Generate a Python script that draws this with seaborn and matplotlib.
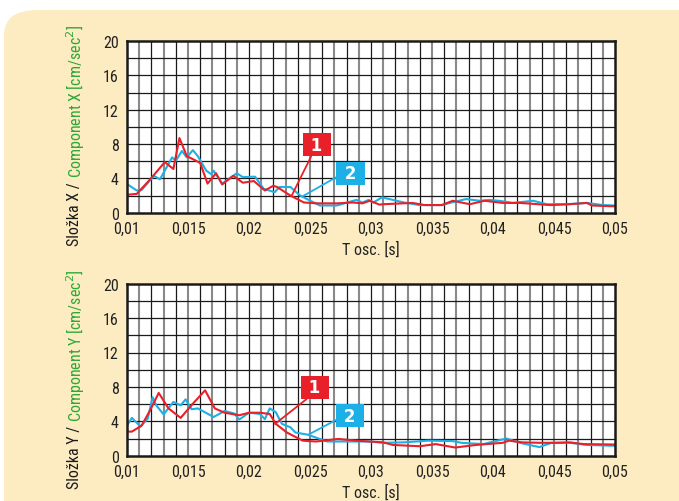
import numpy as np
import pandas as pd
import seaborn as sns
import matplotlib.pyplot as plt
from matplotlib.patches import FancyBboxPatch
from matplotlib import font_manager

# Top chart (component X)
x_top_1 = [0.0100, 0.0108, 0.0119, 0.0131, 0.0138, 0.0143, 0.0149, 0.0156, 0.0160, 0.0166,
           0.0173, 0.0178, 0.0187, 0.0195, 0.0204, 0.0213, 0.0220, 0.0223, 0.0234, 0.0245,
           0.0256, 0.0272, 0.0285, 0.0293, 0.0299, 0.0307, 0.0310, 0.0334, 0.0344, 0.0358,
           0.0367, 0.0381, 0.0393, 0.0408, 0.0422, 0.0447, 0.0463, 0.0477, 0.0481, 0.0500]
y_top_1 = [2.1, 2.2, 3.9, 5.9, 5.1, 8.7, 6.6, 6.1, 5.8, 3.4,
           4.6, 3.3, 4.3, 3.5, 3.7, 2.6, 3.15, 3.0, 2.0, 1.2,
           1.1, 1.1, 1.2, 1.1, 1.4, 0.95, 1.0, 1.15, 0.9, 0.9,
           1.4, 1.0, 1.4, 1.15, 1.15, 0.9, 1.0, 1.15, 0.85, 0.75]
x_top_2 = [0.0100, 0.0108, 0.0112, 0.0122, 0.0127, 0.0137, 0.0140, 0.0145, 0.0149, 0.0154,
           0.0158, 0.0165, 0.0169, 0.0171, 0.0178, 0.0190, 0.0195, 0.0203, 0.0205, 0.0212,
           0.0221, 0.0225, 0.0234, 0.0242, 0.0258, 0.0272, 0.0288, 0.0293, 0.0298, 0.0302,
           0.0309, 0.0327, 0.0340, 0.0358, 0.0366, 0.0378, 0.0389, 0.0397, 0.0405, 0.0416,
           0.0433, 0.0444, 0.0460, 0.0477, 0.0490, 0.0500]
y_top_2 = [3.35, 2.6, 2.65, 4.3, 3.9, 6.45, 6.05, 7.2, 6.45, 7.3,
           6.6, 4.9, 4.5, 4.9, 3.4, 4.6, 4.15, 4.2, 4.2, 2.8,
           2.4, 3.0, 3.0, 2.0, 0.85, 0.85, 1.5, 1.2, 1.5, 1.2,
           1.8, 1.2, 0.9, 0.9, 1.2, 1.6, 1.4, 1.5, 1.4, 1.15,
           1.4, 1.0, 1.0, 1.15, 0.9, 0.85]

# Bottom chart (component Y)
x_bot_1 = [0.0100, 0.0104, 0.0112, 0.0119, 0.0126, 0.0134, 0.0144, 0.0154, 0.0164, 0.0172,
           0.0180, 0.0192, 0.0200, 0.0209, 0.0217, 0.0222, 0.0231, 0.0244, 0.0255, 0.0273,
           0.0288, 0.0299, 0.0310, 0.0318, 0.0340, 0.0353, 0.0369, 0.0386, 0.0408, 0.0413,
           0.0424, 0.0438, 0.0452, 0.0463, 0.0474, 0.0500]
y_bot_1 = [2.8, 2.8, 3.5, 5.3, 7.3, 5.5, 4.4, 6.05, 7.6, 5.5,
           5.0, 4.7, 5.0, 5.0, 4.85, 3.7, 2.7, 1.75, 1.65, 1.95,
           1.75, 1.65, 1.55, 1.25, 1.1, 1.35, 0.95, 1.25, 1.5, 1.75,
           1.55, 1.5, 1.5, 1.55, 1.35, 1.3]
x_bot_2 = [0.0100, 0.0104, 0.0111, 0.0117, 0.0121, 0.0124, 0.0130, 0.0138, 0.0144, 0.0148,
           0.0153, 0.0158, 0.0171, 0.0180, 0.0188, 0.0192, 0.0200, 0.0209, 0.0213, 0.0217,
           0.0222, 0.0227, 0.0234, 0.0238, 0.0248, 0.0264, 0.0291, 0.0299, 0.0310, 0.0327,
           0.0347, 0.0367, 0.0374, 0.0392, 0.0411, 0.0422, 0.0438, 0.0448, 0.0463, 0.0477,
           0.0500]
y_bot_2 = [3.5, 4.4, 3.4, 4.3, 6.8, 5.85, 4.8, 6.25, 5.85, 6.55,
           5.4, 5.5, 4.5, 5.2, 4.9, 4.2, 5.0, 4.85, 4.25, 5.5,
           5.05, 3.7, 3.3, 2.7, 2.45, 1.65, 1.65, 1.65, 1.5, 1.55,
           1.75, 1.7, 1.5, 1.35, 2.0, 1.5, 1.0, 1.5, 1.5, 1.25,
           1.15]

x_ticks = [0.01, 0.015, 0.02, 0.025, 0.03, 0.035, 0.04, 0.045, 0.05]
x_tick_labels = ["0,01", "0,015", "0,02", "0,025", "0,03", "0,035", "0,04", "0,045", "0,05"]
y_ticks = [0, 4, 8, 12, 16, 20]

RED = "#e8202a"
BLUE = "#1db0e6"
GREEN = "#2ea836"

sns.set_style("white")
# pick a narrow font if one is there
installed = {f.name for f in font_manager.fontManager.ttflist}
fams = [f for f in ['Roboto Condensed', 'Liberation Sans Narrow', 'Open Sans Condensed',
                    'Roboto', 'DejaVu Sans'] if f in installed]
plt.rcParams['font.family'] = fams

fig = plt.figure(figsize=(6.79, 5.02), dpi=100)
fig.patch.set_facecolor("white")

# beige rounded panel behind everything
panel = FancyBboxPatch((4 / 679, -0.1), 1.2, 1 - 11 / 502 + 0.1,
                       boxstyle="round,pad=0,rounding_size=0.05",
                       transform=fig.transFigure, facecolor="#fdecc1",
                       edgecolor="none", zorder=-10)
fig.patches.append(panel)

ax_top = fig.add_axes([127 / 679, 1 - 213.8 / 502, 488 / 679, 171.8 / 502])
ax_bot = fig.add_axes([127 / 679, 1 - 456.7 / 502, 488 / 679, 172 / 502])


def draw_panel(ax, x1, y1, x2, y2, comp, box1, box2):
    ax.set_facecolor("white")
    # grid: vertical every 0.001 (alternating grey / black), horizontal every 2
    for i, gx in enumerate(np.arange(0.011, 0.0495, 0.001)):
        if i % 2 == 0:
            ax.axvline(gx, color="#8a8a8a", lw=1.5, zorder=1)
        else:
            ax.axvline(gx, color="#1a1a1a", lw=0.9, zorder=1)
    for gy in np.arange(2, 20, 2):
        ax.axhline(gy, color="#1a1a1a", lw=0.9, zorder=1)

    df1 = pd.DataFrame({"T": x1, "val": y1})
    df2 = pd.DataFrame({"T": x2, "val": y2})
    sns.lineplot(data=df2, x="T", y="val", ax=ax, color=BLUE, lw=1.5, zorder=3)
    sns.lineplot(data=df1, x="T", y="val", ax=ax, color=RED, lw=1.5, zorder=4)

    ax.set_xlim(0.01, 0.05)
    ax.set_ylim(0, 20)
    ax.set_xticks(x_ticks)
    ax.set_xticklabels(x_tick_labels)
    ax.set_yticks(y_ticks)
    ax.tick_params(length=0, labelsize=11.5, colors="#222222", pad=6)
    for s in ax.spines.values():
        s.set_color("#1a1a1a")
        s.set_linewidth(1.8)
        s.set_zorder(5)
    ax.set_xlabel("T osc. [s]", fontsize=11.5, color="#222222", labelpad=3)
    ax.set_ylabel("")

    # numbered callouts
    for (pt, txt_pos, label, col, rp) in [(box1[0], box1[1], " 1 ", RED, (0.3, 0.0)),
                                          (box2[0], box2[1], " 2 ", BLUE, (0.0, 0.35))]:
        ax.annotate(label, xy=pt, xytext=txt_pos, ha="center", va="center",
                    fontsize=12, fontweight="bold", color="white", family="DejaVu Sans",
                    bbox=dict(boxstyle="square,pad=0.15", fc=col, ec="none"),
                    arrowprops=dict(arrowstyle="-", color=col, lw=1.3, relpos=rp,
                                    shrinkA=0, shrinkB=0), zorder=6)

    # two-colour y label
    pos = ax.get_position()
    t1 = fig.text(75 / 679, pos.y0 - 32 / 502, "Složka " + comp + " / ", rotation=90,
                  ha="center", va="bottom", fontsize=11.5, color="#1a1a1a")
    fig.add_artist(plt.Annotation("Component " + comp + " [cm/sec$^2$]", xy=(0.5, 1.0),
                                  xycoords=t1, ha="center", va="bottom", rotation=90,
                                  fontsize=11.5, color=GREEN))


draw_panel(ax_top, x_top_1, y_top_1, x_top_2, y_top_2, "X",
           ((0.0235, 2.0), (0.02557, 7.9)), ((0.02443, 1.95), (0.02832, 4.63)))
draw_panel(ax_bot, x_bot_1, y_bot_1, x_bot_2, y_bot_2, "Y",
           ((0.02213, 3.69), (0.02538, 7.95)), ((0.02486, 2.44), (0.02828, 4.62)))

plt.savefig("out.png", dpi=100)
